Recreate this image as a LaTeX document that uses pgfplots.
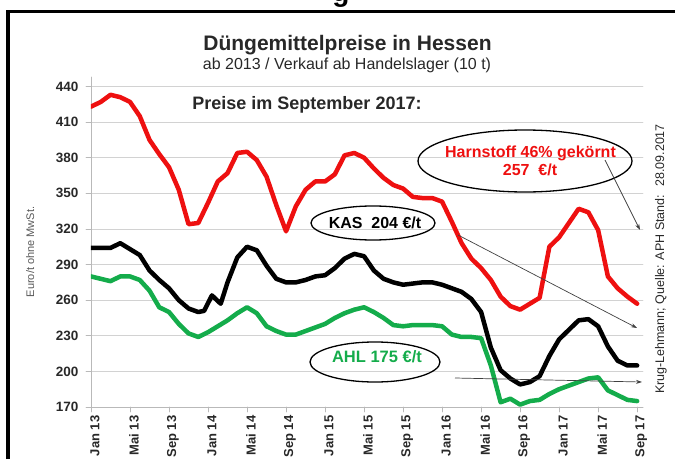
\documentclass[border=0pt]{standalone}
\usepackage{pgfplots}
\pgfplotsset{compat=1.18}
\usepackage{fontspec}
\setmainfont{Liberation Sans}
\usetikzlibrary{arrows.meta}

\definecolor{harnred}{RGB}{238,16,16}
\definecolor{ahlgreen}{RGB}{20,172,75}
\definecolor{txtgray}{RGB}{40,40,40}

\newcommand{\fs}[1]{\fontsize{#1}{#1}\selectfont}

\begin{document}
\begin{tikzpicture}[x=1pt,y=1pt]
\path[use as bounding box] (0,0) rectangle (675,459);

% frame (left and top edges of the cropped picture)
\draw[black, line width=3.5pt] (8,0) -- (8,447.5);
\draw[black, line width=3pt] (6.25,447.5) -- (675,447.5);
\node[anchor=base, inner sep=0pt, font=\bfseries\fs{28}] at (341,457) {g};

% titles
\node[anchor=base, inner sep=0pt, font=\bfseries\fs{21}, text=txtgray] at (347.5,408) {Düngemittelpreise in Hessen};
\node[anchor=base, inner sep=0pt, font=\fs{16}, text=txtgray] at (347,389) {ab 2013 / Verkauf ab Handelslager (10 t)};

\begin{axis}[
    at={(91pt,52pt)}, anchor=south west,
    scale only axis, width=552pt, height=330pt,
    xmin=0, xmax=56.6, ymin=170, ymax=448,
    xtick={0,4,...,56},
    xticklabels={Jan 13,Mai 13,Sep 13,Jan 14,Mai 14,Sep 14,Jan 15,Mai 15,Sep 15,Jan 16,Mai 16,Sep 16,Jan 17,Mai 17,Sep 17},
    ytick={170,200,...,440},
    ymajorgrids, grid style={gray!35, line width=0.8pt},
    axis x line*=bottom, axis y line*=left,
    axis line style={gray!55, line width=0.8pt},
    tick style={gray!55, line width=0.8pt},
    tick align=outside, major tick length=5pt,
    /pgf/number format/assume math mode=true,
    x tick label style={rotate=90, anchor=east, font=\bfseries\fs{13}, text=txtgray, yshift=-4pt},
    y tick label style={font=\bfseries\fs{13.5}, text=txtgray, xshift=-4pt},
    ylabel={Euro/t ohne MwSt.},
    ylabel style={font=\fs{11}, text=gray!70!black, at={(axis description cs:-0.11,0.47)}, anchor=center},
    line join=round, line cap=round,
]

% Harnstoff 46% gekoernt
\addplot[harnred, line width=4.5pt] coordinates {
(0,423)(1,427)(2,433)(3,431)(4,427)(5,415)(6,395)(7,383)(8,372)(9,353)
(10,324)(11,325)(12,342)(13,360)(14,367)(15,384)(16,385)(17,378)(18,364)(19,340)
(20,318)(21,339)(22,353)(23,360)(24,360)(25,366)(26,382)(27,384)(28,380)(29,371)
(30,363)(31,357)(32,354)(33,347)(34,346)(35,346)(36,343)(37,326)(38,308)(39,295)
(40,287)(41,277)(42,263)(43,255)(44,252)(45,257)(46,262)(47,305)(48,313)(49,325)
(50,337)(51,334)(52,319)(53,280)(54,270)(55,263)(56,257)
};

% KAS
\addplot[black, line width=4.5pt] coordinates {
(0,304)(1,304)(2,304)(3,308)(4,303)(5,298)(6,285)(7,277)(8,270)(9,260)
(10,253)(11,250)(11.6,251)(12.4,264)(13.3,257)(14,275)(15,296)(16,305)(17,302)(18,289)(19,278)
(20,275)(21,275)(22,277)(23,280)(24,281)(25,287)(26,295)(27,299)(28,297)(29,285)
(30,278)(31,275)(32,273)(33,274)(34,275)(35,275)(36,273)(37,270)(38,267)(39,261)
(40,250)(41,220)(42,201)(43,194)(44,189)(45,191)(46,196)(47,213)(48,227)(49,235)
(50,243)(51,244)(52,238)(53,221)(54,209)(55,205)(56,205)
};

% AHL
\addplot[ahlgreen, line width=4.5pt] coordinates {
(0,280)(1,278)(2,276)(3,280)(4,280)(5,277)(6,268)(7,254)(8,250)(9,240)
(10,232)(11,229)(12,233)(13,238)(14,243)(15,249)(16,254)(17,249)(18,238)(19,234)
(20,231)(21,231)(22,234)(23,237)(24,240)(25,245)(26,249)(27,252)(28,254)(29,250)
(30,245)(31,239)(32,238)(33,239)(34,239)(35,239)(36,238)(37,231)(38,229)(39,229)
(40,228)(41,205)(42,174)(43,177)(44,172)(45,175)(46,176)(47,181)(48,185)(49,188)
(50,191)(51,194)(52,195)(53,184)(54,180)(55,176)(56,175)
};
\end{axis}

% annotations
\node[anchor=base, inner sep=0pt, font=\bfseries\fs{18}, text=txtgray] at (307,349) {Preise im September 2017:};

\draw[black, line width=1.3pt] (525,298) ellipse [x radius=107, y radius=31];
\node[anchor=base, inner sep=0pt, font=\bfseries\fs{16}, text=harnred] at (530.5,302) {Harnstoff 46\% gekörnt};
\node[anchor=base, inner sep=0pt, font=\bfseries\fs{16}, text=harnred] at (530,284) {257 \ €/t};

\draw[black, line width=1.3pt] (373,236) ellipse [x radius=62, y radius=17];
\node[anchor=base, inner sep=0pt, font=\bfseries\fs{16}, text=black] at (375,231) {KAS \ 204 €/t};

\draw[black, line width=1.3pt] (375,97) ellipse [x radius=65, y radius=20];
\node[anchor=base, inner sep=0pt, font=\bfseries\fs{16.5}, text=ahlgreen] at (377,97) {AHL 175 €/t};

\draw[gray!50!black, line width=0.7pt, -{Stealth[length=6pt,width=4pt]}] (605,299) -- (640,229);
\draw[gray!50!black, line width=0.7pt, -{Stealth[length=6pt,width=4pt]}] (458,224) -- (637,131);
\draw[gray!50!black, line width=0.7pt, -{Stealth[length=6pt,width=4pt]}] (455,81) -- (642,77);

% source note
\node[rotate=90, inner sep=0pt, font=\fs{12.5}, text=txtgray] at (661,200) {Krug-Lehmann; Quelle: APH Stand: \ 28.09.2017};
\end{tikzpicture}
\end{document}
